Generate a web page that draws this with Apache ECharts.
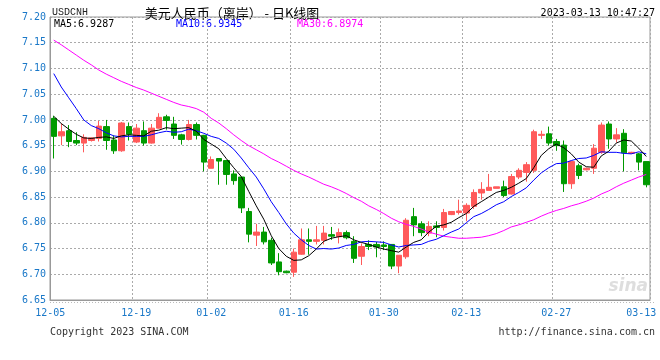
<!DOCTYPE html>
<html><head><meta charset="utf-8">
<script src="https://cdn.jsdelivr.net/npm/echarts/dist/echarts.min.js"></script>
<style>html,body{margin:0;padding:0;background:#fff}#c{width:660px;height:360px}</style>
</head><body><div id="c"></div>
<script>
const dates = ['12-05','12-06','12-07','12-08','12-09','12-10','12-12','12-13','12-14','12-15','12-16',
'12-19','12-20','12-21','12-22','12-23','12-26','12-27','12-28','12-29','12-30',
'01-02','01-03','01-04','01-05','01-06','01-07','01-09','01-10','01-11','01-12','01-13',
'01-16','01-17','01-18','01-19','01-20','01-21','01-23','01-24','01-25','01-26','01-27','01-28',
'01-30','01-31','02-01','02-02','02-03','02-04','02-06','02-07','02-08','02-09','02-10',
'02-13','02-14','02-15','02-16','02-17','02-18','02-20','02-21','02-22','02-23','02-24','02-25',
'02-27','02-28','03-01','03-02','03-03','03-04','03-06','03-07','03-08','03-09','03-10','03-11',
'03-13'];
const tickDates = ['12-05','12-19','01-02','01-16','01-30','02-13','02-27','03-13'];
const openV = [7.003,6.969,6.979,6.960,6.955,6.960,6.964,6.987,6.961,6.940,6.987,6.957,6.979,6.955,6.984,7.006,6.992,6.971,6.962,6.991,
6.970,6.906,6.925,6.921,6.895,6.889,6.822,6.776,6.782,6.766,6.724,6.706,6.704,6.739,6.767,6.764,6.766,6.777,6.773,6.781,
6.764,6.735,6.758,6.758,6.757,6.758,6.716,6.734,6.812,6.798,6.780,6.794,6.791,6.816,6.820,6.819,6.832,6.858,6.863,6.867,
6.870,6.856,6.889,6.898,6.902,6.970,6.973,6.958,6.951,6.876,6.911,6.903,6.906,6.937,6.992,6.963,6.974,6.935,6.934,6.919];
const closeV = [6.968,6.977,6.958,6.955,6.966,6.965,6.988,6.960,6.940,6.994,6.972,6.984,6.955,6.984,7.005,6.999,6.970,6.962,6.991,6.970,
6.918,6.923,6.920,6.894,6.882,6.829,6.778,6.782,6.763,6.722,6.705,6.703,6.743,6.767,6.764,6.767,6.780,6.774,6.781,6.771,
6.731,6.754,6.754,6.753,6.754,6.716,6.737,6.805,6.796,6.781,6.793,6.791,6.820,6.822,6.823,6.834,6.859,6.865,6.869,6.870,
6.853,6.890,6.902,6.913,6.977,6.972,6.955,6.950,6.876,6.919,6.892,6.906,6.945,6.990,6.963,6.971,6.936,6.937,6.918,6.874];
const lowV = [6.925,6.951,6.947,6.951,6.937,6.958,6.958,6.942,6.934,6.938,6.960,6.955,6.950,6.954,6.983,6.981,6.963,6.952,6.960,6.962,
6.900,6.906,6.874,6.874,6.874,6.819,6.762,6.755,6.758,6.718,6.698,6.702,6.695,6.738,6.738,6.758,6.758,6.767,6.760,6.768,
6.722,6.718,6.747,6.733,6.747,6.710,6.702,6.730,6.774,6.774,6.774,6.772,6.785,6.815,6.816,6.803,6.827,6.845,6.863,6.867,
6.850,6.855,6.885,6.880,6.897,6.963,6.950,6.940,6.860,6.866,6.885,6.902,6.895,6.934,6.944,6.956,6.900,6.934,6.902,6.869];
const highV = [7.008,6.993,6.990,6.976,6.972,6.966,6.998,7.000,6.970,6.996,6.995,6.992,6.997,6.992,7.013,7.010,7.006,6.973,7.000,6.995,
6.971,6.929,6.925,6.921,6.902,6.889,6.829,6.798,6.792,6.771,6.741,6.707,6.750,6.789,6.789,6.794,6.794,6.792,6.789,6.785,
6.774,6.760,6.766,6.763,6.764,6.758,6.737,6.809,6.829,6.803,6.803,6.803,6.827,6.823,6.845,6.838,6.865,6.879,6.895,6.870,
6.882,6.895,6.906,6.918,6.981,6.979,6.987,6.963,6.960,6.919,6.915,6.907,6.953,6.995,6.997,6.984,6.982,6.938,6.936,6.919];
const ma5 = [7.007,6.993,6.982,6.972,6.965,6.964,6.966,6.967,6.964,6.969,6.971,6.970,6.969,6.978,6.980,6.985,6.983,6.984,6.985,6.978,
6.962,6.953,6.944,6.925,6.907,6.890,6.861,6.833,6.807,6.775,6.750,6.735,6.727,6.728,6.736,6.749,6.764,6.770,6.773,6.775,
6.767,6.762,6.758,6.753,6.749,6.746,6.743,6.753,6.762,6.767,6.782,6.793,6.796,6.801,6.810,6.818,6.832,6.841,6.850,6.859,
6.863,6.869,6.877,6.886,6.907,6.931,6.944,6.953,6.946,6.934,6.918,6.909,6.908,6.930,6.939,6.955,6.961,6.959,6.945,6.929];
const ma10 = [7.090,7.064,7.043,7.022,7.000,6.989,6.983,6.975,6.969,6.967,6.968,6.968,6.968,6.971,6.975,6.978,6.976,6.977,6.982,6.979,
6.974,6.968,6.964,6.955,6.943,6.926,6.907,6.889,6.866,6.841,6.820,6.798,6.780,6.767,6.756,6.749,6.750,6.749,6.751,6.756,
6.758,6.763,6.764,6.763,6.762,6.757,6.753,6.756,6.757,6.758,6.764,6.768,6.775,6.782,6.788,6.800,6.812,6.818,6.826,6.835,
6.841,6.851,6.859,6.868,6.883,6.897,6.907,6.915,6.916,6.921,6.925,6.926,6.931,6.938,6.937,6.937,6.935,6.934,6.938,6.934];
const ma30 = [7.155,7.146,7.136,7.126,7.116,7.107,7.097,7.089,7.082,7.075,7.069,7.063,7.058,7.052,7.046,7.040,7.034,7.029,7.026,7.022,
7.015,7.003,6.994,6.983,6.971,6.960,6.950,6.942,6.934,6.925,6.918,6.910,6.902,6.895,6.889,6.882,6.875,6.870,6.864,6.857,
6.849,6.842,6.833,6.826,6.818,6.809,6.802,6.797,6.793,6.788,6.782,6.778,6.774,6.772,6.770,6.770,6.771,6.772,6.775,6.779,
6.785,6.792,6.796,6.801,6.806,6.813,6.819,6.824,6.828,6.833,6.837,6.842,6.848,6.856,6.862,6.870,6.877,6.883,6.889,6.894];
const legendText = ['MA5:6.9287','MA10:6.9345','MA30:6.8974'];

const N = dates.length;
const candles = dates.map((d,i)=>[openV[i],closeV[i],lowV[i],highV[i]]);
const MONO = '"DejaVu Sans Mono", monospace';
const BLUE = '#1a78c8';
const chart = echarts.init(document.getElementById('c'), null, {renderer:'canvas'});
chart.setOption({
  animation:false,
  backgroundColor:'#fff',
  grid:{left:50,right:10,top:17,bottom:60,show:true,borderColor:'#999',borderWidth:1},
  xAxis:{type:'category',data:dates,boundaryGap:true,
    axisLine:{show:true,lineStyle:{color:'#999'}},axisTick:{show:false},
    axisLabel:{interval:(i,v)=>tickDates.includes(v),color:BLUE,fontFamily:MONO,fontSize:10,margin:8,
      formatter:(v,i)=> i===0?'{f|'+v+'}':(i===N-1?'{l|'+v+'}':v),
      rich:{f:{padding:[0,7,0,0],color:BLUE,fontFamily:MONO,fontSize:10},l:{padding:[0,10,0,0],color:BLUE,fontFamily:MONO,fontSize:10}}},
    splitLine:{show:true,interval:(i,v)=>tickDates.includes(v)&&i!==0&&i!==N-1,lineStyle:{color:'#aaa',type:[2,2],width:1}}},
  yAxis:{type:'value',min:6.65,max:7.20,interval:0.05,
    axisLine:{show:true,lineStyle:{color:'#999'}},axisTick:{show:false},
    axisLabel:{color:BLUE,fontFamily:MONO,fontSize:10,margin:4,formatter:v=>v.toFixed(2)},
    splitLine:{show:true,lineStyle:{color:'#aaa',type:[2,2],width:1}}},
  series:[
    {type:'candlestick',data:candles,barWidth:6,z:2,
      itemStyle:{color:'#ff5a5a',color0:'#009a00',borderColor:'#ff5a5a',borderColor0:'#009a00',borderWidth:1}},
    {type:'line',data:ma30,symbol:'none',z:3,lineStyle:{color:'#ff00ff',width:1}},
    {type:'line',data:ma10,symbol:'none',z:4,lineStyle:{color:'#0000ff',width:1}},
    {type:'line',data:ma5,symbol:'none',z:5,lineStyle:{color:'#000',width:1}}
  ],
  graphic:[
    {type:'text',left:52,top:7,style:{text:'USDCNH',font:'10px "Liberation Mono", monospace',fill:'#222'}},
    {type:'text',x:232,y:13,style:{text:'美元人民币（离岸） - 日K线图',font:'13px "Noto Sans CJK SC"',fill:'#000',align:'center',verticalAlign:'middle'}},
    {type:'text',x:655,y:13,style:{text:'2023-03-13 10:47:27',font:'10px '+MONO,fill:'#000',align:'right',verticalAlign:'middle'}},
    {type:'text',x:54,y:24,style:{text:legendText[0],font:'10px '+MONO,fill:'#000',verticalAlign:'middle'}},
    {type:'text',x:176,y:24,style:{text:legendText[1],font:'10px '+MONO,fill:'#0000ff',verticalAlign:'middle'}},
    {type:'text',x:297,y:24,style:{text:legendText[2],font:'10px '+MONO,fill:'#ff00ff',verticalAlign:'middle'}},
    {type:'text',x:648,y:287,z:0,style:{text:'sina',font:'italic bold 17px "DejaVu Sans"',fill:'#dedede',align:'right',verticalAlign:'middle'}},
    {type:'line',shape:{x1:50,y1:302.5,x2:656,y2:302.5},style:{stroke:'#bbb',lineWidth:1,lineDash:[1,2]}},
    {type:'text',x:50,y:332,style:{text:'Copyright 2023 SINA.COM',font:'10px '+MONO,fill:'#333',verticalAlign:'middle'}},
    {type:'text',x:655,y:332,style:{text:'http://finance.sina.com.cn',font:'10px '+MONO,fill:'#333',align:'right',verticalAlign:'middle'}}
  ]
});
</script></body></html>
